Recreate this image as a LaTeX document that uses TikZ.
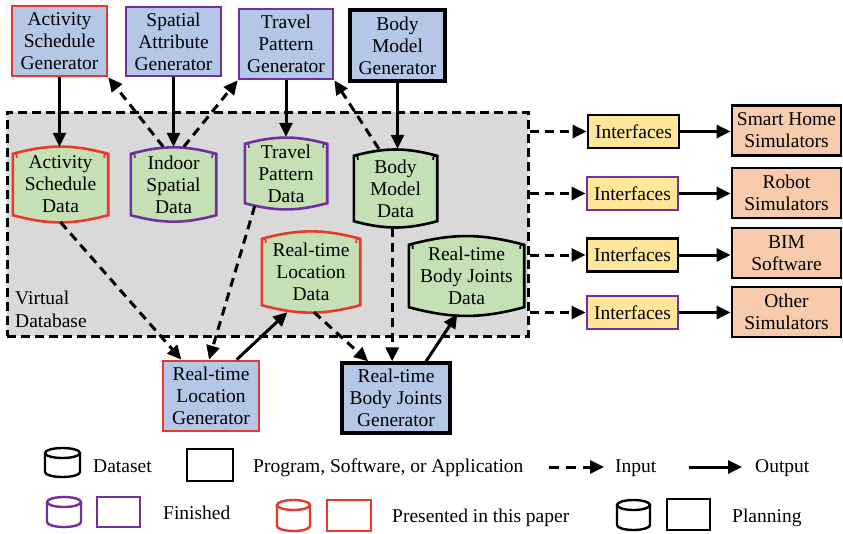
\documentclass[tikz,border=0pt]{standalone}
\usepackage{fontspec}
\setmainfont{Liberation Serif}
\usetikzlibrary{arrows.meta,calc}
\definecolor{genblue}{HTML}{B4C7E7}
\definecolor{dgreen}{HTML}{C5E0B4}
\definecolor{ifyellow}{HTML}{FFE699}
\definecolor{simsalmon}{HTML}{F8CBAD}
\definecolor{vdbgray}{HTML}{D9D9D9}
\definecolor{myred}{HTML}{E8392F}
\definecolor{mypurple}{HTML}{7030A0}

\newcommand\dbshape[2]{%
  \draw[#2, line width=2.6pt, fill=dgreen]
    ([yshift=-7pt]#1.north west) to[bend left=15] ([yshift=-7pt]#1.north east)
    -- ([yshift=7pt]#1.south east) to[bend left=15] ([yshift=7pt]#1.south west) -- cycle;
  \draw[#2, line width=1.6pt] ([yshift=-7pt]#1.north west) .. controls ([shift={(4pt,-7pt)}]#1.north west) .. ([shift={(4pt,-11pt)}]#1.north west);
  \draw[#2, line width=1.6pt] ([yshift=-7pt]#1.north east) .. controls ([shift={(-4pt,-7pt)}]#1.north east) .. ([shift={(-4pt,-11pt)}]#1.north east);
}
\newcommand\legcyl[5]{%
  \draw[#5, line width=2.4pt] (#1,#2+5) ellipse [x radius=#4pt, y radius=5pt];
  \draw[#5, line width=2.4pt] (#1-#4,#2+5) -- (#1-#4,#3-5)
     arc[start angle=180, end angle=360, x radius=#4pt, y radius=5pt] -- (#1+#4,#2+5);
}

\begin{document}
\begin{tikzpicture}[x=1pt,y=-1pt,
  every node/.style={font=\fontsize{19.5}{22}\selectfont, inner sep=0pt, align=center},
  sz/.style 2 args={minimum width=#1pt, minimum height=#2pt},
  gen/.style={draw, line width=2.8pt, fill=genblue},
  iface/.style={draw, line width=2.8pt, fill=ifyellow, minimum width=91pt, minimum height=33pt},
  sim/.style={draw, line width=2.8pt, fill=simsalmon, minimum width=109pt, minimum height=50pt},
  inarrow/.style={line width=3pt, dash pattern=on 9pt off 6pt, -{Triangle[length=14pt,width=13pt]}},
  outarrow/.style={line width=3pt, -{Triangle[length=14pt,width=13pt]}},
  legline/.style={line width=2.6pt}
]
\useasboundingbox (0,0) rectangle (843,533);
\fill[white] (0,0) rectangle (843,533);

% virtual database
\node[sz={521}{224}, draw, fill=vdbgray, line width=3pt, dash pattern=on 9pt off 5pt] (vdb) at (267.5,224) {};
\node[anchor=base west] (vl1) at (15,304) {Virtual};
\node[anchor=base west] (vl2) at (15,327) {Database};

% generators
\node[gen, draw=myred, sz={95}{70}] (asg) at (59.5,41) {Activity\\Schedule\\Generator};
\node[gen, draw=mypurple, sz={95}{69}] (sag) at (173.5,41.5) {Spatial\\Attribute\\Generator};
\node[gen, draw=mypurple, sz={94}{70}] (tpg) at (286,44) {Travel\\Pattern\\Generator};
\node[gen, draw=black, line width=3.4pt, sz={95}{71}] (bmg) at (397.5,45.5) {Body\\Model\\Generator};
\node[gen, draw=myred, sz={96}{70}] (rlg) at (211,396) {Real-time\\Location\\Generator};
\node[gen, draw=black, line width=3.4pt, sz={108}{70}] (rbg) at (396,398) {Real-time\\Body Joints\\Generator};

% data
\node[sz={95}{75}] (asd) at (60.5,184.5) {};
\dbshape{asd}{myred}
\node (asdt) at (asd) {Activity\\Schedule\\Data};
\node[sz={85}{75}] (isd) at (173.5,184.5) {};
\dbshape{isd}{mypurple}
\node (isdt) at (isd) {Indoor\\Spatial\\Data};
\node[sz={82}{73}] (tpd) at (286,173.5) {};
\dbshape{tpd}{mypurple}
\node (tpdt) at (tpd) {Travel\\Pattern\\Data};
\node[sz={83}{79}] (bmd) at (395.5,188.5) {};
\dbshape{bmd}{black}
\node (bmdt) at (bmd) {Body\\Model\\Data};
\node[sz={98}{80}] (rld) at (311,272) {};
\dbshape{rld}{myred}
\node (rldt) at (rld) {Real-time\\Location\\Data};
\node[sz={115}{76}] (rbd) at (466.5,276) {};
\dbshape{rbd}{black}
\node (rbdt) at (rbd) {Real-time\\Body Joints\\Data};

% arrows top
\draw[outarrow] (asg.south) -- (asg.south |- asd.north);
\draw[outarrow] (sag.south) -- (sag.south |- isd.north);
\draw[outarrow] (tpg.south) -- (tpg.south |- tpd.north);
\draw[outarrow] (bmg.south) -- (bmg.south |- bmd.north);
\draw[inarrow] ($(isd.north west)!0.38!(isd.north east)$) -- (asg.south east);
\draw[inarrow] ($(isd.north west)!0.62!(isd.north east)$) -- (tpg.south west);
\draw[inarrow] ($(bmd.north west)!0.3!(bmd.north east)$) -- (tpg.south east);

% arrows bottom
\draw[inarrow] (asd.south) -- ($(rlg.north west)!0.2!(rlg.north east)$);
\draw[inarrow] ($(tpd.south west)!0.12!(tpd.south east)+(0,4pt)$) -- ($(rlg.north west)!0.48!(rlg.north east)$);
\draw[outarrow] ($(rlg.north west)!0.76!(rlg.north east)$) -- ($(rld.south west)!0.26!(rld.south east)$);
\draw[inarrow] ($(rld.south west)!0.53!(rld.south east)$) -- ($(rbg.north west)!0.25!(rbg.north east)$);
\coordinate (bmdb) at ($(bmd.south west)!0.46!(bmd.south east)$);
\draw[inarrow] (bmdb) -- (bmdb |- rbg.north);
\draw[outarrow] ($(rbg.north west)!0.77!(rbg.north east)$) -- ($(rbd.south west)!0.42!(rbd.south east)$);

% interfaces and simulators
\node[iface] (if1) at (633.5,131.5) {Interfaces};
\node[iface, draw=mypurple] (if2) at (632.5,193.5) {Interfaces};
\node[iface] (if3) at (632.5,255) {Interfaces};
\node[iface, draw=mypurple] (if4) at (632.5,312.5) {Interfaces};
\node[sim] (s1) at (786.5,130.5) {Smart Home\\Simulators};
\node[sim] (s2) at (786.5,193) {Robot\\Simulators};
\node[sim] (s3) at (786.5,253) {BIM\\Software};
\node[sim] (s4) at (786.5,312) {Other\\Simulators};
\foreach \i in {1,2,3,4}{
  \draw[inarrow] (if\i.west -| vdb.east) -- (if\i.west);
  \draw[outarrow] (if\i.east) -- (if\i.east -| s\i.west);
}

% legend
\legcyl{62.5}{448}{477}{17.5}{black}
\draw[legline] (187,449) rectangle (233,481);
\node[anchor=base west] (lgds) at (93,472) {Dataset};
\node[anchor=base west] (lgpr) at (253,472) {Program, Software, or Application};
\coordinate (li1) at (549,467); \coordinate (li2) at (604,467);
\draw[inarrow, dash pattern=on 10pt off 7pt] (li1) -- (li2);
\node[anchor=base west] (lgin) at (615,472) {Input};
\coordinate (lo1) at (689,467); \coordinate (lo2) at (742,467);
\draw[outarrow] (lo1) -- (lo2);
\node[anchor=base west] (lgout) at (755,472) {Output};

\legcyl{64}{497}{527}{17}{mypurple}
\draw[legline, mypurple] (97,497) rectangle (140,527);
\node[anchor=base west] (lgfi) at (163,519) {Finished};
\legcyl{293.5}{500}{531}{16.5}{myred}
\draw[legline, myred] (327,500) rectangle (371,531);
\node[anchor=base west] (lgpp) at (392,522) {Presented in this paper};
\legcyl{633.5}{500}{530}{16.5}{black}
\draw[legline] (667,499) rectangle (710,530);
\node[anchor=base west] (lgpl) at (732,522) {Planning};
\end{tikzpicture}
\end{document}
